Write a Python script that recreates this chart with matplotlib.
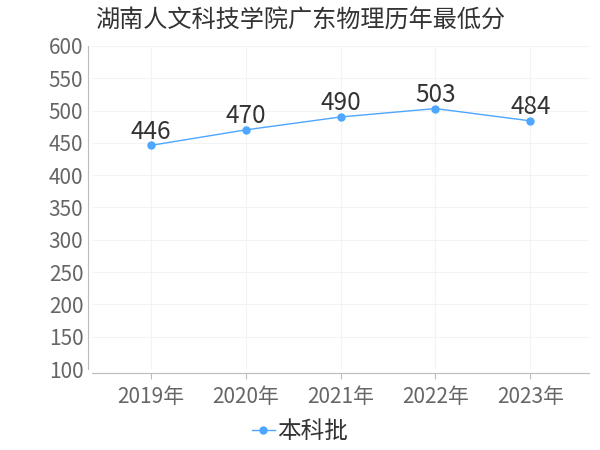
import matplotlib
matplotlib.use("Agg")
import matplotlib.pyplot as plt

plt.rcParams['font.family'] = ['Noto Sans CJK SC', 'DejaVu Sans']

years = ['2019年', '2020年', '2021年', '2022年', '2023年']
scores = [446, 470, 490, 503, 484]
series_name = '本科批'
title = '湖南人文科技学院广东物理历年最低分'

fig = plt.figure(figsize=(6, 4.5), dpi=100)
ax = fig.add_axes([0.153, 0.18, 0.829, 0.718])

x = list(range(len(years)))
ax.plot(x, scores, color='#4da6ff', lw=1, marker='o', ms=5, label=series_name, zorder=3)
for xi, v in zip(x, scores):
    ax.text(xi, v + 1, str(v), ha='center', va='bottom', fontsize=17.5, color='#333333')

ax.set_xlim(-0.62, 4.62)
ax.set_ylim(100, 600)
ax.set_yticks(range(100, 601, 50))
ax.set_xticks(x)
ax.set_xticklabels(years)
ax.grid(True, color='#f3f3f3', lw=0.8)
ax.set_axisbelow(True)

for s in ['top', 'right']:
    ax.spines[s].set_visible(False)
ax.spines['left'].set_position(('outward', 3))
ax.spines['bottom'].set_position(('outward', 3))
ax.spines['left'].set_color('#bbbbbb')
ax.spines['bottom'].set_color('#bbbbbb')
ax.tick_params(axis='y', colors='#bbbbbb', labelcolor='#666666', labelsize=15, length=0, pad=3)
ax.tick_params(axis='x', colors='#bbbbbb', labelcolor='#666666', labelsize=15, length=4, pad=5)

fig.text(0.5, 0.955, title, ha='center', va='center', fontsize=17.4, color='#333333')
fig.legend(loc='center', bbox_to_anchor=(0.5, 0.04), frameon=False, fontsize=17,
           handlelength=1.0, handletextpad=0.1, labelcolor='#333333')

fig.savefig('out.png', dpi=100)
